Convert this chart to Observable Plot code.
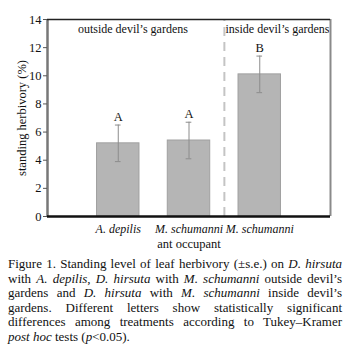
<!DOCTYPE html>
<html><head><meta charset="utf-8">
<script src="https://cdn.jsdelivr.net/npm/d3@7"></script>
<script src="https://cdn.jsdelivr.net/npm/@observablehq/plot@0.6"></script>
<style>
body{margin:0;background:#fff;font-family:'Liberation Serif','Times New Roman',serif;}
#chart{position:absolute;left:0;top:0;}
#chart svg, #chart text{font-family:'Liberation Serif','Times New Roman',serif;}
#cap{position:absolute;left:8px;top:257px;width:334px;font-size:13px;line-height:14.5px;text-align:justify;color:#111;}
#cap i{font-style:italic;}
.nw{white-space:nowrap;}
</style></head><body><div id="chart"></div>
<div id="cap">Figure 1. Standing level of leaf herbivory (±s.e.) on <i>D. hirsuta</i> with <i>A. depilis</i>, <i>D. hirsuta</i> with <i>M. schumanni</i> outside devil’s gardens and <i>D. hirsuta</i> with <i>M. schumanni</i> inside devil’s gardens. Different letters show statistically significant differences among treatments according to Tukey–Kramer <span class="nw"><i>post hoc</i> tests</span> (<i>p</i>&lt;0.05).</div>
<script>
const categories = ["A. depilis", "M. schumanni", "M. schumanni"];
const herbivory = [5.2, 5.4, 10.1];
const se = [1.3, 1.3, 1.3];
const letters = ["A", "A", "B"];
const groupLabels = ["outside devil’s gardens", "inside devil’s gardens"];
const yTicks = [0, 2, 4, 6, 8, 10, 12, 14];

const rows = categories.map((c, i) => ({
  pos: i + 1, cat: c, value: herbivory[i],
  lo: herbivory[i] - se[i], hi: herbivory[i] + se[i], letter: letters[i]
}));
const half = 0.3, cap = 0.04;
const serif = "'Liberation Serif', 'Times New Roman', serif";

const chart = Plot.plot({
  width: 354, height: 252,
  marginLeft: 47, marginRight: 24, marginTop: 19, marginBottom: 36,
  style: {fontFamily: serif, fontSize: "12px", color: "#111", background: "#fff"},
  x: {domain: [0, 4]},
  y: {domain: [0, 14]},
  marks: [
    Plot.ruleX([2.5], {y1: 0, y2: 14, stroke: "#c4c4c4", strokeWidth: 2, strokeDasharray: "9,6"}),
    Plot.rectY(rows, {x1: d => d.pos - half, x2: d => d.pos + half, y: "value", fill: "#b5b5b5", stroke: "#a0a0a0", strokeWidth: 1}),
    Plot.ruleX(rows, {x: "pos", y1: "lo", y2: "hi", stroke: "#8c8c8c", strokeWidth: 1}),
    Plot.ruleY(rows, {y: "hi", x1: d => d.pos - cap, x2: d => d.pos + cap, stroke: "#8c8c8c"}),
    Plot.ruleY(rows, {y: "lo", x1: d => d.pos - cap, x2: d => d.pos + cap, stroke: "#8c8c8c"}),
    Plot.text(rows, {x: "pos", y: "hi", text: "letter", dy: -8, fontSize: 12.5, fill: "#111", fontFamily: serif}),
    Plot.text([groupLabels[0]], {x: 0.43, y: 14, dy: 10, text: d => d, textAnchor: "start", fill: "#111", fontSize: 12, fontFamily: serif}),
    Plot.text([groupLabels[1]], {x: 4, y: 14, dx: -1, dy: 10, text: d => d, textAnchor: "end", fill: "#111", fontSize: 12, fontFamily: serif}),
    Plot.ruleX([4], {y1: 0, y2: 14, stroke: "#8a8a8a", strokeWidth: 2}),
    Plot.ruleX([0], {y1: 0, y2: 14, stroke: "#777", strokeWidth: 2.5}),
    Plot.ruleY([14], {x1: 0, x2: 4, stroke: "#222", strokeWidth: 1.5}),
    Plot.ruleY([0], {x1: 0, x2: 4, stroke: "#111", strokeWidth: 2.5}),
    Plot.axisY({ticks: yTicks, tickSize: 4, tickPadding: 2, stroke: "#555", fontSize: 12.5, fontFamily: serif, label: "standing herbivory (%)", labelAnchor: "center", labelArrow: false, labelOffset: 30}),
    Plot.axisX({ticks: [1, 2, 3], tickFormat: i => categories[i - 1], tickSize: 0, tickPadding: 8, fontStyle: "italic", fontSize: 12, fontFamily: serif, label: null}),
    Plot.text(["ant occupant"], {frameAnchor: "bottom", dy: 31, text: d => d, fontSize: 12.5, fill: "#111", fontFamily: serif})
  ]
});
document.getElementById("chart").appendChild(chart);
</script></body></html>
